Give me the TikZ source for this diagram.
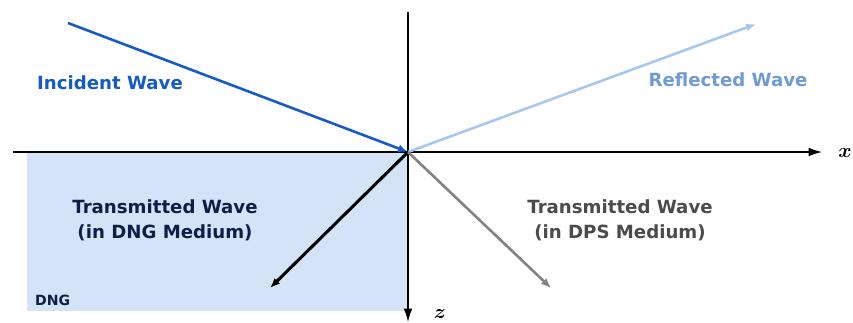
\documentclass[tikz,border=0pt]{standalone}
\usepackage{bm}
\usepackage{fontspec}
\setsansfont{DejaVu Sans}
\usepackage{tikz}
\usetikzlibrary{arrows.meta,calc,positioning}

\definecolor{incblue}{RGB}{20,90,200}
\definecolor{refblue}{RGB}{165,200,238}
\definecolor{reflabel}{RGB}{110,155,215}
\definecolor{dngfill}{RGB}{212,227,247}
\definecolor{dnglabel}{RGB}{15,30,70}
\definecolor{dpsgray}{RGB}{130,130,130}
\definecolor{dpslabel}{RGB}{75,75,75}

\begin{document}
\begin{tikzpicture}[
			x=0.03cm, y=-0.03cm,
			>=Latex,
			axis/.style={->, line width=1.1pt, >={Latex[length=4mm, width=2.6mm]}},
			wave/.style={->, line width=2.2pt, >={Latex[length=3mm, width=2.4mm]}},
			lbl/.style={font=\sffamily\bfseries\fontsize{15.5}{21}\selectfont, align=center}
			]
			\useasboundingbox (0,0) rectangle (853,322);
			
			% DNG half-space
			\fill[dngfill] (27,152) rectangle (408,311);
			\node[anchor=west, text=dnglabel, font=\sffamily\bfseries\fontsize{12}{14}\selectfont] (dng) at (31,300) {DNG};
			
			\coordinate (O) at (408,152);
			\coordinate (xstart) at (13,152);
			\coordinate (xend) at (822,152);
			\coordinate (zstart) at (408,12);
			\coordinate (zend) at (408,322);
			\coordinate (inc) at (68,23);
			\coordinate (refl) at (756,24);
			\coordinate (tdng) at (270,288);
			\coordinate (tdps) at (551,288);
			
			% axes
			\draw[axis] (xstart) -- (xend);
			\draw[axis] (zstart) -- (zend);
			\node[font=\fontsize{19}{21}\selectfont] (xlab) at (845,153) {$\bm{x}$};
			\node[font=\fontsize{19}{21}\selectfont] (zlab) at (440,314) {$\bm{z}$};
			
			% waves
			\draw[wave, incblue] (inc) -- (O);
			\draw[wave, refblue] (O) -- (refl);
			\draw[wave, black, line width=2.6pt] (O) -- (tdng);
			\draw[wave, dpsgray] (O) -- (tdps);
			
			\node[lbl, text=incblue] (inclab) at (110,83) {Incident Wave};
			\node[lbl, text=reflabel] (refllab) at (728,80) {Reflected Wave};
			\node[lbl, text=dnglabel] (dnglab) at (165,220) {Transmitted Wave\\(in DNG Medium)};
			\node[lbl, text=dpslabel] (dpslab) at (620,220) {Transmitted Wave\\(in DPS Medium)};
		\end{tikzpicture}
\end{document}
